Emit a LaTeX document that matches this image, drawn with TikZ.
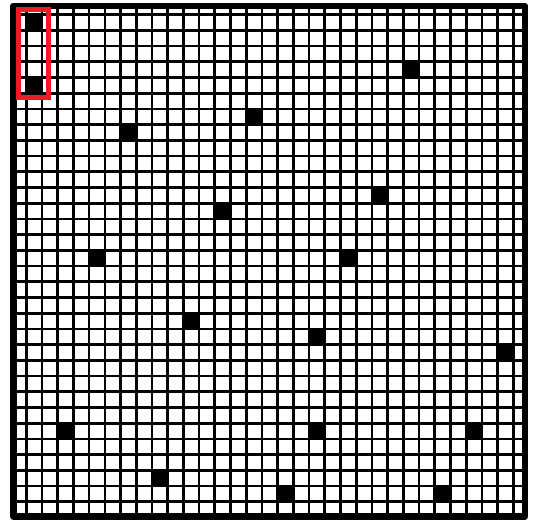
\documentclass[tikz,border=0pt]{standalone}
\usepackage{tikz}
\definecolor{boxred}{RGB}{237,28,36}
\tikzset{
  gridline/.style={line width=2.7bp, black},
  cellfill/.style={fill=black},
  frameline/.style={line width=6.5bp, black, line join=round},
  markbox/.style={line width=4.5bp, boxred}
}
\begin{document}
\begin{tikzpicture}[x=1bp,y=-1bp]
\useasboundingbox (0,0) rectangle (536,520);
\fill[white] (0,0) rectangle (536,520);
% grid lines
\foreach \k in {0,...,31}{
  \draw[gridline] ({26.3+15.71*\k},6) -- ({26.3+15.71*\k},516.5);
  \draw[gridline] (13.3,{14.7+15.71*\k}) -- (525,{14.7+15.71*\k});
}
% black cells (column,row)
\foreach \c/\r in {1/1,1/5,25/4,7/8,15/7,23/12,13/13,5/16,21/16,11/20,19/21,31/22,3/27,19/27,29/27,9/30,17/31,27/31}{
  \fill[cellfill] ({26.3+15.71*(\c-1)-1},{14.7+15.71*(\r-1)-1}) rectangle ({26.3+15.71*\c+1},{14.7+15.71*\r+1});
}
% outer frame
\draw[frameline] (13.3,6) rectangle (525,516.5);
% red highlight box
\draw[markbox] (18.7,9.5) rectangle (48.7,97.7);
\end{tikzpicture}
\end{document}
